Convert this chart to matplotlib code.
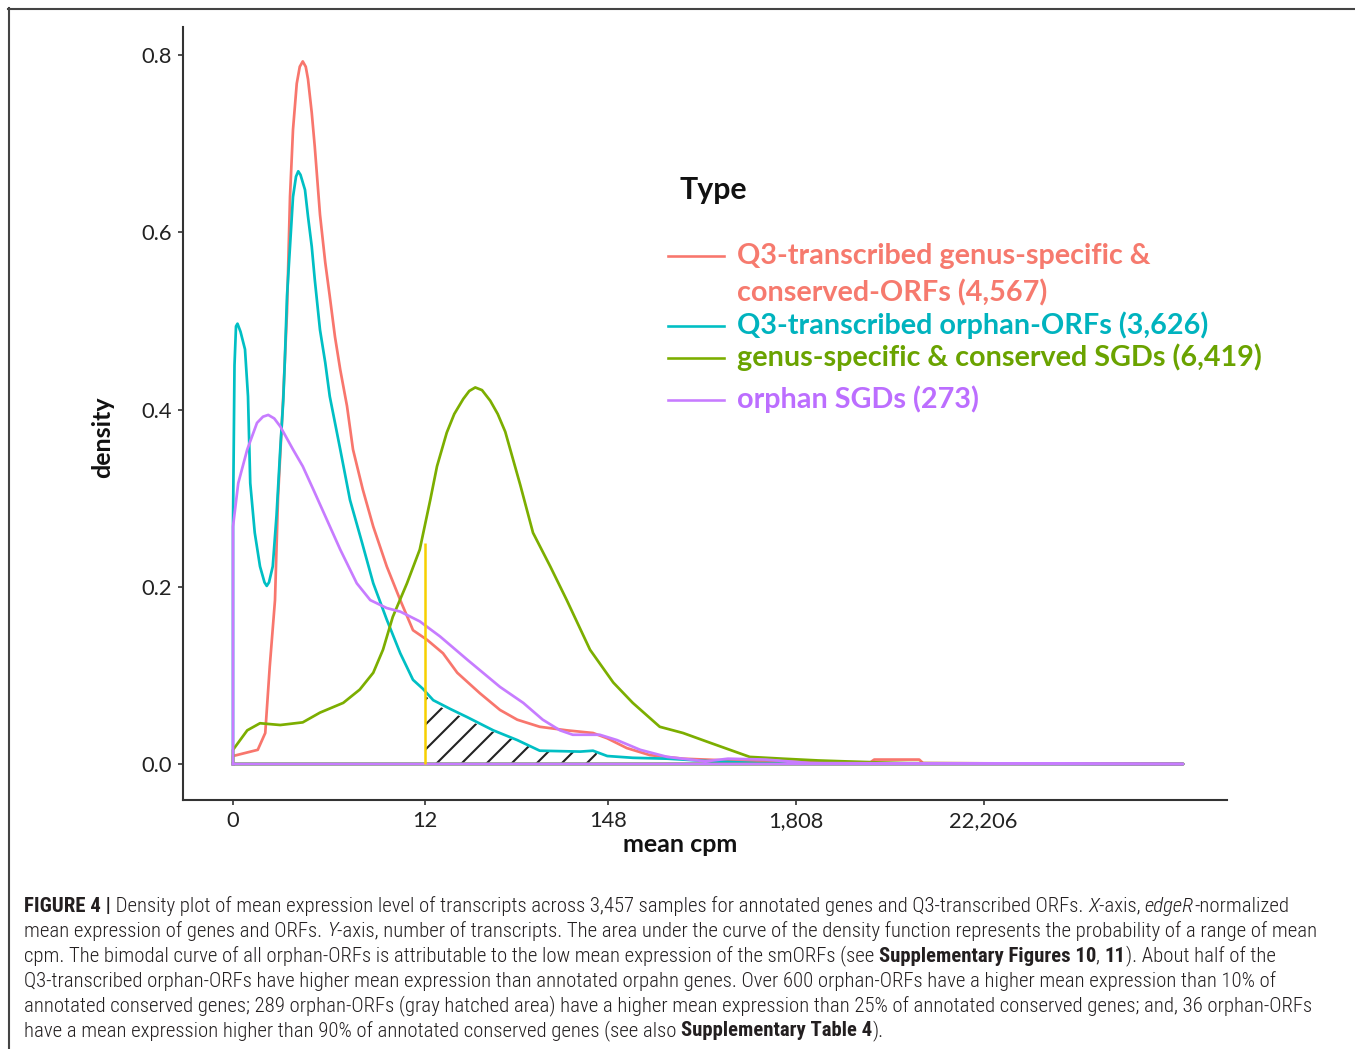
import numpy as np
import matplotlib
matplotlib.use('Agg')
import matplotlib.pyplot as plt
from matplotlib.lines import Line2D

W, H, DPI = 1355, 1049, 150

# x values are log(1 + mean cpm), as on the original density plot
tick_cpm = [0, 12, 148, 1808, 22206]
tick_labels = ['0', '12', '148', '1,808', '22,206']
x_end = 12.67

red_x = [0, 0.33, 0.43, 0.49, 0.56, 0.60, 0.67, 0.72, 0.76, 0.80, 0.85, 0.89, 0.93, 0.97,
         1.00, 1.05, 1.09, 1.16, 1.23, 1.29, 1.36, 1.43, 1.52, 1.60, 1.73, 1.87, 2.05, 2.23,
         2.40, 2.59, 2.80, 2.99, 3.29, 3.56, 3.79, 4.09, 4.45, 4.80, 4.99, 5.25, 5.56, 6.00,
         6.6, 7.2, 8.0, 8.5, 8.55, 9.15, 9.2, x_end]
red_y = [0.009, 0.016, 0.035, 0.11, 0.185, 0.30, 0.415, 0.51, 0.64, 0.716, 0.768, 0.787,
         0.793, 0.787, 0.773, 0.735, 0.697, 0.62, 0.566, 0.528, 0.482, 0.445, 0.404, 0.355,
         0.31, 0.268, 0.223, 0.185, 0.151, 0.140, 0.125, 0.103, 0.08, 0.061, 0.05, 0.042,
         0.038, 0.035, 0.029, 0.018, 0.010, 0.006, 0.004, 0.003, 0.002, 0.002, 0.005, 0.005,
         0.001, 0.0]

cyan_x = [0, 0.02, 0.04, 0.06, 0.10, 0.16, 0.20, 0.23, 0.29, 0.36, 0.42, 0.45, 0.48, 0.53,
          0.58, 0.63, 0.67, 0.69, 0.72, 0.76, 0.80, 0.84, 0.87, 0.90, 0.96, 1.00, 1.05, 1.09,
          1.16, 1.23, 1.29, 1.43, 1.56, 1.72, 1.87, 2.05, 2.23, 2.40, 2.53, 2.67, 2.9, 3.12,
          3.47, 3.79, 4.09, 4.63, 4.80, 4.99, 5.33, 5.79, 6.4, 7.0, x_end]
cyan_y = [0.27, 0.45, 0.494, 0.497, 0.488, 0.468, 0.415, 0.317, 0.261, 0.223, 0.205, 0.201,
          0.205, 0.223, 0.28, 0.355, 0.41, 0.453, 0.528, 0.584, 0.64, 0.663, 0.669, 0.665,
          0.648, 0.618, 0.584, 0.547, 0.49, 0.453, 0.415, 0.355, 0.298, 0.25, 0.204, 0.163,
          0.125, 0.095, 0.085, 0.072, 0.062, 0.053, 0.038, 0.027, 0.015, 0.014, 0.015, 0.009,
          0.007, 0.006, 0.003, 0.001, 0.0]

green_x = [0, 0.19, 0.36, 0.63, 0.93, 1.16, 1.47, 1.69, 1.87, 2.00, 2.13, 2.32, 2.49, 2.63,
           2.72, 2.85, 2.95, 3.07, 3.15, 3.23, 3.32, 3.43, 3.53, 3.63, 3.83, 4.0, 4.23, 4.45,
           4.76, 5.07, 5.33, 5.69, 6.0, 6.36, 6.89, 7.33, 7.8, 8.5, 9.0, x_end]
green_y = [0.016, 0.038, 0.046, 0.044, 0.047, 0.058, 0.069, 0.084, 0.103, 0.129, 0.166,
           0.204, 0.242, 0.298, 0.336, 0.374, 0.395, 0.412, 0.421, 0.425, 0.422, 0.41, 0.395,
           0.375, 0.315, 0.261, 0.223, 0.185, 0.129, 0.092, 0.069, 0.042, 0.035, 0.024, 0.008,
           0.006, 0.004, 0.002, 0.001, 0.0]

purple_x = [0, 0.07, 0.19, 0.32, 0.40, 0.47, 0.55, 0.63, 0.80, 0.93, 1.07, 1.25, 1.43, 1.65,
            1.83, 2.05, 2.23, 2.49, 2.76, 3.12, 3.56, 3.87, 4.13, 4.36, 4.53, 4.89, 5.12,
            5.43, 5.79, 6.3, 6.6, 7.1, 7.7, x_end]
purple_y = [0.268, 0.317, 0.355, 0.385, 0.392, 0.394, 0.39, 0.381, 0.355, 0.336, 0.31,
            0.276, 0.242, 0.204, 0.185, 0.176, 0.172, 0.161, 0.144, 0.118, 0.087, 0.069,
            0.05, 0.038, 0.033, 0.033, 0.027, 0.016, 0.008, 0.003, 0.006, 0.005, 0.001, 0.0]

series = [
    (red_x, red_y, '#F8766D'),
    (cyan_x, cyan_y, '#00BFC4'),
    (green_x, green_y, '#7CAE00'),
    (purple_x, purple_y, '#C77CFF'),
]

legend_lines = [
    ['Q3-transcribed genus-specific &', 'conserved-ORFs (4,567)'],
    ['Q3-transcribed orphan-ORFs (3,626)'],
    ['genus-specific & conserved SGDs (6,419)'],
    ['orphan SGDs (273)'],
]
legend_text_colors = ['#F67A6E', '#00B3BE', '#6AA300', '#BC6EFF']

cut_cpm = 12        # yellow line
cut_height = 0.25
hatch_end_cpm = 127  # end of hatched area

caption = [
    [('FIGURE 4 |', 'bold', 'normal'),
     (' Density plot of mean expression level of transcripts across 3,457 samples for annotated genes and Q3-transcribed ORFs. ', 'light', 'normal'),
     ('X', 'light', 'italic'), ('-axis, ', 'light', 'normal'), ('edgeR', 'light', 'italic'),
     ('-normalized', 'light', 'normal')],
    [('mean expression of genes and ORFs. ', 'light', 'normal'), ('Y', 'light', 'italic'),
     ('-axis, number of transcripts. The area under the curve of the density function represents the probability of a range of mean', 'light', 'normal')],
    [('cpm. The bimodal curve of all orphan-ORFs is attributable to the low mean expression of the smORFs (see ', 'light', 'normal'),
     ('Supplementary Figures 10', 'bold', 'normal'), (', ', 'light', 'normal'), ('11', 'bold', 'normal'),
     ('). About half of the', 'light', 'normal')],
    [('Q3-transcribed orphan-ORFs have higher mean expression than annotated orpahn genes. Over 600 orphan-ORFs have a higher mean expression than 10% of', 'light', 'normal')],
    [('annotated conserved genes; 289 orphan-ORFs (gray hatched area) have a higher mean expression than 25% of annotated conserved genes; and, 36 orphan-ORFs', 'light', 'normal')],
    [('have a mean expression higher than 90% of annotated conserved genes (see also ', 'light', 'normal'),
     ('Supplementary Table 4', 'bold', 'normal'), (').', 'light', 'normal')],
]

plt.rcParams['font.family'] = ['Lato', 'DejaVu Sans']
plt.rcParams['hatch.linewidth'] = 1.0


def fx(px):
    return px / W


def fy(py):
    return 1 - py / H


fig = plt.figure(figsize=(W / DPI, H / DPI), dpi=DPI)
ax = fig.add_axes([fx(183), fy(800), (1227 - 183) / W, (800 - 27) / H])

for xs, ys, col in series:
    px = [xs[0]] + list(xs) + [xs[0]]
    py = [0] + list(ys) + [0]
    ax.plot(px, py, color=col, lw=1.3, solid_joinstyle='round')

# hatched area under the orphan-ORF curve above 12 cpm
lo, hi = np.log1p(cut_cpm), np.log1p(hatch_end_cpm)
cx = np.array(cyan_x)
hx = np.concatenate([[lo], cx[(cx > lo) & (cx < hi)], [hi]])
hy = np.interp(hx, cyan_x, cyan_y) * 0.95
ax.fill_between(hx, 0, hy, facecolor='none', edgecolor='#222222', hatch='//', lw=0)
ax.vlines(lo, 0, cut_height, color='#F7D000', lw=1.2)

ax.set_xlim((183 - 233) / 75, (1227 - 233) / 75)
ax.set_ylim(-36 / 886, 737 / 886)
ax.set_xticks(np.log1p(tick_cpm))
ax.set_xticklabels(tick_labels)
ax.set_yticks([0, 0.2, 0.4, 0.6, 0.8])
ax.set_yticklabels(['0.0', '0.2', '0.4', '0.6', '0.8'])
for s in ['top', 'right']:
    ax.spines[s].set_visible(False)
for s in ['left', 'bottom']:
    ax.spines[s].set_color('#333333')
    ax.spines[s].set_linewidth(1.0)
ax.tick_params(colors='#333333', labelcolor='#222222', labelsize=10.5, length=2.5, width=0.8, pad=3)
ax.patch.set_visible(False)

ax.text((103 - 183) / 1044, (800 - 437) / 773, 'density', transform=ax.transAxes, rotation=90,
        ha='center', va='center', fontsize=12, fontweight='bold', color='#111111')
ax.text((680 - 183) / 1044, (800 - 845) / 773, 'mean cpm', transform=ax.transAxes,
        ha='center', va='center', fontsize=12, fontweight='bold', color='#111111')

# legend drawn by hand (multi-line first entry, coloured labels)
fig.text(fx(679), fy(190), 'Type', ha='left', va='center', fontsize=14.5, fontweight='bold', color='#111111')
line_y = [256, 326, 358, 400]
text_y = [[256, 293], [325], [357], [399]]
for (xs, ys, col), lab, tcol, ly, tys in zip(series, legend_lines, legend_text_colors, line_y, text_y):
    fig.add_artist(Line2D([fx(668), fx(724)], [fy(ly), fy(ly)], color=col, lw=1.25))
    for txt, ty in zip(lab, tys):
        fig.text(fx(737), fy(ty), txt, ha='left', va='center', fontsize=13.8,
                 fontweight='bold', color=tcol)

# figure frame
fig.add_artist(Line2D([fx(8), 1], [fy(8.5), fy(8.5)], color='#444444', lw=1.0))
fig.add_artist(Line2D([fx(8.5), fx(8.5)], [fy(8), 0], color='#444444', lw=1.0))

# caption, fitted to the width of the second line
cap_family = ['Liberation Sans Narrow', 'Roboto Condensed', 'Liberation Sans']
renderer = fig.canvas.get_renderer()


def draw_line(segs, y, size, measure=False):
    x = 24
    arts = []
    for txt, wt, st in segs:
        t = fig.text(fx(x), fy(y), txt, ha='left', va='center', fontsize=size, fontweight=wt,
                     fontstyle=st, family=cap_family, color='#231F20')
        bb = t.get_window_extent(renderer=renderer)
        x += bb.width
        arts.append(t)
    if measure:
        for t in arts:
            t.remove()
    return x - 24


w10 = draw_line(caption[1], 931, 10, measure=True)
cap_size = 10 * (1322 - 24) / w10
for i, segs in enumerate(caption):
    draw_line(segs, 906 + 25 * i, cap_size)

fig.savefig('out.png', dpi=DPI)
